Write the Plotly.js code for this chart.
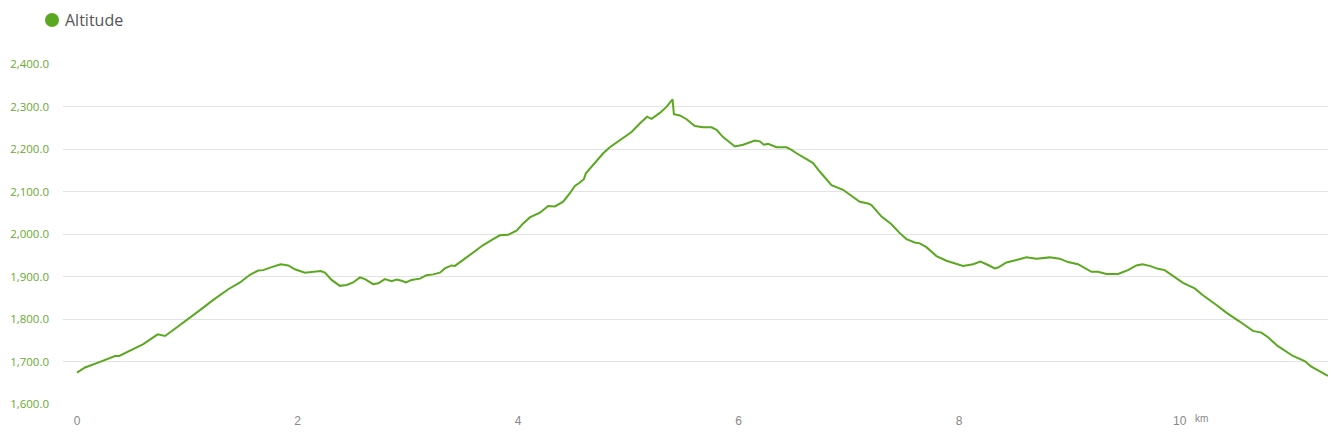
<!DOCTYPE html>
<html><head><meta charset="utf-8">
<script src="https://cdn.plot.ly/plotly-3.0.1.min.js"></script>
<style>html,body{margin:0;padding:0;background:#fff}#c{width:1341px;height:437px}</style>
</head><body><div id="c"></div>
<script>
const distanceKm = [0,0.073,0.209,0.345,0.383,0.496,0.601,0.732,0.798,0.873,0.979,1.115,1.236,1.372,1.478,1.568,1.644,1.689,1.765,1.847,1.916,1.976,2.067,2.142,2.209,2.248,2.309,2.384,2.445,2.505,2.566,2.611,2.686,2.732,2.792,2.853,2.898,2.944,2.983,3.034,3.110,3.170,3.230,3.291,3.336,3.397,3.427,3.502,3.593,3.684,3.774,3.835,3.910,3.986,4.046,4.107,4.198,4.273,4.334,4.409,4.470,4.515,4.554,4.597,4.615,4.681,4.772,4.832,4.923,5.029,5.104,5.170,5.210,5.286,5.346,5.401,5.413,5.467,5.528,5.603,5.678,5.754,5.800,5.859,5.966,6.041,6.147,6.192,6.228,6.267,6.344,6.434,6.480,6.525,6.616,6.675,6.736,6.842,6.947,7.038,7.099,7.174,7.205,7.296,7.386,7.461,7.522,7.597,7.643,7.703,7.794,7.885,8.035,8.126,8.193,8.262,8.323,8.353,8.429,8.520,8.610,8.701,8.821,8.912,8.987,9.078,9.139,9.199,9.259,9.335,9.441,9.531,9.607,9.662,9.728,9.803,9.864,9.939,10.030,10.136,10.211,10.333,10.423,10.544,10.664,10.741,10.801,10.891,11.027,11.133,11.194,11.345];
const altitudeM = [1674,1686,1699,1713,1713,1727,1741,1764,1760,1774,1794,1821,1845,1870,1886,1904,1914,1915,1922,1929,1926,1917,1909,1911,1913,1909,1892,1878,1880,1886,1898,1894,1882,1884,1894,1889,1893,1890,1886,1892,1895,1903,1905,1909,1919,1926,1925,1939,1956,1974,1988,1997,1998,2008,2025,2039,2050,2066,2065,2076,2096,2113,2120,2129,2143,2162,2190,2204,2221,2240,2260,2276,2271,2285,2299,2317,2282,2279,2270,2254,2251,2251,2245,2228,2206,2210,2220,2218,2210,2212,2204,2204,2198,2190,2176,2167,2147,2115,2104,2088,2076,2072,2068,2041,2023,2002,1988,1980,1978,1969,1948,1937,1925,1929,1935,1927,1919,1921,1933,1939,1945,1942,1945,1942,1934,1929,1919,1911,1911,1906,1906,1915,1926,1929,1925,1918,1915,1901,1885,1872,1856,1833,1815,1794,1772,1768,1757,1736,1713,1701,1688,1666];
const yTicks = [1600,1700,1800,1900,2000,2100,2200,2300,2400];
const xTicks = [0,2,4,6,8,10];
const xTickText = ['0','2','4','6','8','10'];
const seriesName = 'Altitude';
const unitLabel = 'km';

const green = 'rgb(90,168,32)';
const data = [{
  type: 'scatter', mode: 'lines', x: distanceKm, y: altitudeM, name: seriesName,
  line: {color: green, width: 2}, hoverinfo: 'x+y', showlegend: false
}];
const W = 1265, H = 340, L = 63, T = 64;
const px = v => (v - L) / W;
const py = v => (T + H - v) / H;
const layout = {
  width: 1341, height: 437,
  margin: {l: 63, r: 13, t: 64, b: 33},
  paper_bgcolor: '#fff', plot_bgcolor: '#fff',
  showlegend: false,
  xaxis: {
    range: [-0.127, 11.345], tickvals: xTicks, ticktext: xTickText,
    showgrid: false, zeroline: false, showline: false, ticks: '',
    tickfont: {family: 'Liberation Sans, Arial, sans-serif', size: 12, color: '#888'},
    ticklabelstandoff: 8
  },
  yaxis: {
    range: [1600, 2400], tickvals: yTicks, tickformat: ',.1f',
    showgrid: true, gridcolor: '#e3e3e3', gridwidth: 1, zeroline: false, showline: false, ticks: '',
    tickfont: {family: 'Open Sans, sans-serif', size: 11.5, color: '#6aa832'},
    ticklabelstandoff: 13
  },
  shapes: [{
    type: 'circle', xref: 'paper', yref: 'paper',
    x0: px(45), x1: px(59), y0: py(27), y1: py(13),
    fillcolor: green, line: {width: 0}
  }],
  annotations: [
    {text: seriesName, xref: 'paper', yref: 'paper', x: px(63), y: py(20),
     xanchor: 'left', yanchor: 'middle', showarrow: false,
     font: {family: 'Open Sans, sans-serif', size: 16, color: '#555'}},
    {text: unitLabel, xref: 'x', yref: 'paper', x: 10.12, y: py(418),
     xanchor: 'left', yanchor: 'middle', showarrow: false,
     font: {family: 'Liberation Sans, Arial, sans-serif', size: 10, color: '#888'}}
  ]
};
Plotly.newPlot('c', data, layout, {displayModeBar: false, staticPlot: true});
</script></body></html>
